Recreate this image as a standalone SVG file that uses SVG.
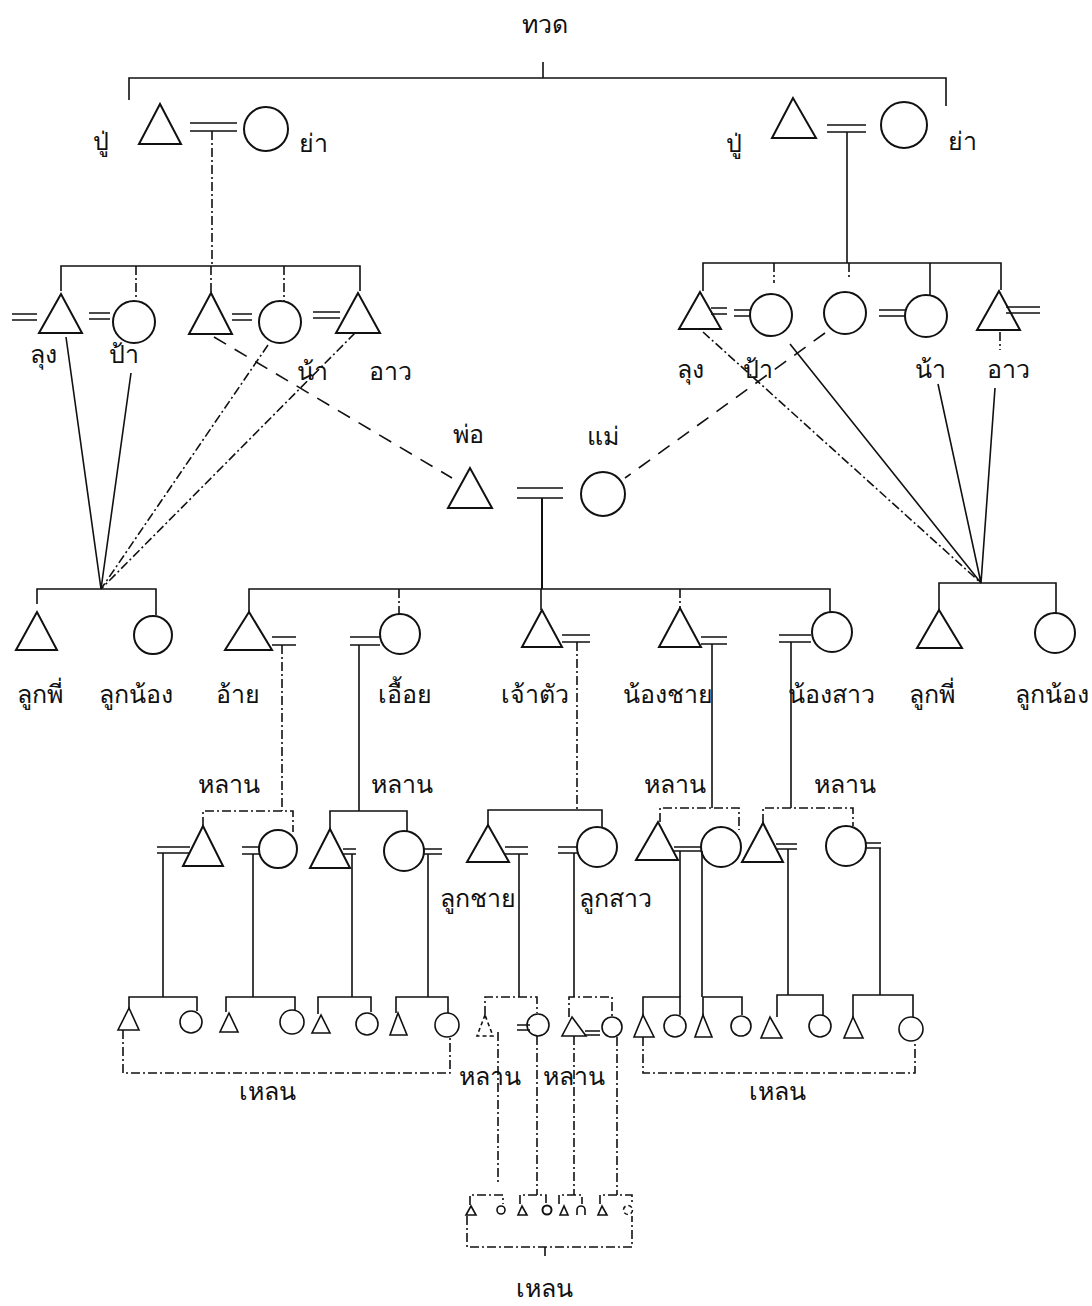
<svg xmlns="http://www.w3.org/2000/svg" width="1092" height="1306" viewBox="0 0 1092 1306">
<defs>
<pattern id="stip" width="5" height="5" patternUnits="userSpaceOnUse">
<rect width="5" height="5" fill="#d8d8d8"/>
<circle cx="1.5" cy="1.5" r="0.9" fill="#222"/>
<circle cx="4" cy="3.8" r="0.7" fill="#444"/>
</pattern>
</defs>
<style>
.s{fill:none;stroke:#111;stroke-width:2}
.ss{fill:none;stroke:#111;stroke-width:1.6}
.l{fill:none;stroke:#111;stroke-width:1.6}
.dd{stroke-dasharray:9 3 2 3}
.da{stroke-dasharray:14 10}
.dt{stroke-dasharray:4 3}
.t{font-family:"Noto Sans","DejaVu Sans",sans-serif;font-size:25px;fill:#111;text-anchor:middle}
</style>
<rect width="1092" height="1306" fill="#fff"/>

<g id="connectors">
<!-- top bracket -->
<path class="l" d="M543,62 V78 M129,100 V78 H946 V106"/>
<!-- grandparents marriages and descent -->
<path class="l" d="M190,123 H237 M190,131 H237"/>
<path class="l dd" d="M212,131 V266"/>
<path class="l" d="M827,125 H866 M827,132 H866"/>
<path class="l" d="M847,132 V263"/>
<!-- left sibling bracket -->
<path class="l" d="M61,291 V266 H360 V291"/>
<path class="l dd" d="M136,266 V300 M211,266 V292 M284,266 V301"/>
<path class="l" d="M12,314 H37 M12,320 H37 M89,313 H110 M89,319 H110 M232,314 H252 M232,320 H252 M313,312 H340 M313,318 H340"/>
<!-- right sibling bracket -->
<path class="l" d="M703,291 V263 H1001 V290"/>
<path class="l dd" d="M774,263 V283 M849,263 V280"/>
<path class="l" d="M930,263 V295"/>
<path class="l" d="M711,308 H727 M711,314 H727 M734,310 H751 M734,316 H751 M879,310 H905 M879,316 H905 M1006,307 H1040 M1006,313 H1040"/>
<!-- to father / mother -->
<path class="l da" d="M214,337 L452,478"/>
<path class="l da" d="M825,333 L625,478"/>
<!-- left cousin lines -->
<path class="l" d="M66,337 L101,589 M131,373 L101,589"/>
<path class="l dd" d="M268,345 L101,589 M355,333 L101,589"/>
<path class="l" d="M37,604 V589 H156 V615"/>
<!-- right cousin lines -->
<path class="l dd" d="M703,332 L981,583"/>
<path class="l" d="M790,344 L981,583 M938,384 L981,583 M995,388 L981,583"/>
<path class="l dd" d="M1000,332 V350"/>
<path class="l" d="M939,610 V583 H1056 V613"/>
<!-- parents -->
<path class="l" d="M517,488 H563 M517,498 H563"/>
<path class="s" d="M542,498 V589"/>
<path class="l" d="M249,612 V589 H830 V612"/>
<path class="l dd" d="M399,589 V614 M680,589 V608"/>
<path class="l" d="M541,589 V610"/>
<!-- siblings spouses and descent -->
<path class="l" d="M272,637 H296 M272,645 H296 M350,637 H380 M350,645 H380 M562,635 H590 M562,642 H590 M701,637 H727 M701,644 H727 M779,635 H811 M779,642 H811"/>
<path class="l dd" d="M282,645 V811 M577,642 V810"/>
<path class="l" d="M359,645 V811 M712,644 V808 M791,642 V808"/>
<!-- grandchildren brackets -->
<path class="l dd" d="M203,826 V811 H293 V832"/>
<path class="l" d="M330,829 V811 H407 V831"/>
<path class="l" d="M488,825 V810 H602 V827"/>
<path class="l dd" d="M660,822 V808 H739 V830"/>
<path class="l dd" d="M763,823 V808 H853 V826"/>
<!-- grandchildren spouses and descent -->
<path class="l" d="M157,847 H190 M157,853 H190 M242,847 H259 M242,854 H259 M343,849 H356 M343,854 H356 M423,849 H442 M423,854 H442 M505,847 H528 M505,854 H528 M558,847 H578 M558,853 H578 M674,847 H690 M674,851 H690 M690,847 H702 M690,851 H702 M776,844 H797 M776,849 H797 M865,843 H881 M865,848 H881"/>
<path class="l" d="M163,853 V997 M253,854 V997 M352,854 V997 M428,854 V997 M519,854 V997 M574,853 V997 M680,851 V997 M702,851 V997 M788,849 V995 M880,848 V995"/>
<!-- great-grandchildren brackets -->
<path class="l" d="M129,1008 V997 H197 V1011"/>
<path class="l" d="M226,1012 V997 H295 V1010"/>
<path class="l" d="M318,1014 V997 H371 V1012"/>
<path class="l" d="M396,1013 V997 H448 V1013"/>
<path class="l dd" d="M485,1015 V997 H537 V1013"/>
<path class="l dd" d="M569,1017 V997 H612 V1017"/>
<path class="l" d="M643,1015 V997 H680 V1015"/>
<path class="l" d="M703,1015 V997 H742 V1015"/>
<path class="l" d="M777,1017 V995 H823 V1015"/>
<path class="l" d="M853,1017 V995 H913 V1017"/>
<path class="l" d="M517,1025 H530 M517,1030 H530 M585,1031 H600 M585,1035 H600"/>
<!-- lehn brackets -->
<path class="l dd" d="M123,1030 V1073 H450 V1038"/>
<path class="l dd" d="M643,1037 V1073 H915 V1041"/>
<!-- descent to bottom -->
<path class="l dd" d="M498,1032 V1183"/>
<path class="l dd" d="M537,1036 V1195 M574,1036 V1195 M617,1037 V1195"/>
<path class="l dd" d="M470,1205 V1195 H503 V1204 M520,1204 V1195 H546 V1204 M559,1204 V1195 H582 V1204 M600,1204 V1195 H632 V1204"/>
<path class="l dd" d="M467,1216 V1247 H632 V1216 M545,1247 V1257"/>
</g>

<g id="n-tuat"><text class="t" x="545" y="33">ทวด</text></g>
<g id="n-pu-l"><polygon class="s" points="160,104 139,144 181,144"/><text class="t" x="101" y="150">ปู่</text></g>
<g id="n-ya-l"><circle class="s" cx="266" cy="129" r="22"/><text class="t" x="313" y="152">ย่า</text></g>
<g id="n-pu-r"><polygon class="s" points="793,98 772,138 816,138"/><text class="t" x="734" y="152">ปู่</text></g>
<g id="n-ya-r"><circle class="s" cx="904" cy="125" r="23"/><text class="t" x="962" y="150">ย่า</text></g>

<g id="n-lung-l"><polygon class="s" points="61,294 39,333 82,333"/><text class="t" x="43" y="363">ลุง</text></g>
<g id="n-pa-l"><circle class="s" cx="134" cy="322" r="21"/><text class="t" x="124" y="363">ป้า</text></g>
<g id="n-pho-l"><polygon class="s" points="211,293 189,334 232,334"/></g>
<g id="n-na-l"><circle class="s" cx="280" cy="322" r="21"/><text class="t" x="312" y="380">น้า</text></g>
<g id="n-ao-l"><polygon class="s" points="358,293 336,333 380,333"/><text class="t" x="390" y="380">อาว</text></g>

<g id="n-lung-r"><polygon class="s" points="700,292 679,329 721,329"/><text class="t" x="690" y="378">ลุง</text></g>
<g id="n-pa-r"><circle class="s" cx="771" cy="315" r="21"/><text class="t" x="758" y="378">ป้า</text></g>
<g id="n-mae-r"><circle class="s" cx="845" cy="313" r="21"/></g>
<g id="n-na-r"><circle class="s" cx="926" cy="316" r="21"/><text class="t" x="930" y="378">น้า</text></g>
<g id="n-ao-r"><polygon class="s" points="999,291 977,330 1020,330"/><text class="t" x="1008" y="378">อาว</text></g>

<g id="n-pho"><polygon class="s" points="470,468 448,508 492,508"/><text class="t" x="468" y="443">พ่อ</text></g>
<g id="n-mae"><circle class="s" cx="603" cy="494" r="22"/><text class="t" x="603" y="445">แม่</text></g>

<g id="n-lukphi-l"><polygon class="s" points="37,612 16,650 57,650"/><text class="t" x="40" y="703">ลูกพี่</text></g>
<g id="n-luknong-l"><circle class="s" cx="153" cy="635" r="19"/><text class="t" x="136" y="703">ลูกน้อง</text></g>
<g id="n-ai"><polygon class="s" points="249,612 225,650 272,650"/><text class="t" x="238" y="703">อ้าย</text></g>
<g id="n-ueai"><circle class="s" cx="400" cy="634" r="20"/><text class="t" x="405" y="703">เอื้อย</text></g>
<g id="n-chaotua"><polygon class="s" points="542,610 522,647 562,647" fill="url(#stip)"/><text class="t" x="535" y="703">เจ้าตัว</text></g>
<g id="n-nongchai"><polygon class="s" points="680,608 659,647 701,647"/><text class="t" x="668" y="703">น้องชาย</text></g>
<g id="n-nongsao"><circle class="s" cx="832" cy="632" r="20"/><text class="t" x="831" y="703">น้องสาว</text></g>
<g id="n-lukphi-r"><polygon class="s" points="939,610 917,648 962,648"/><text class="t" x="932" y="703">ลูกพี่</text></g>
<g id="n-luknong-r"><circle class="s" cx="1055" cy="633" r="20"/><text class="t" x="1089" y="703" style="text-anchor:end">ลูกน้อง</text></g>

<g id="n-lan-labels">
<text class="t" x="229" y="793">หลาน</text>
<text class="t" x="402" y="793">หลาน</text>
<text class="t" x="675" y="793">หลาน</text>
<text class="t" x="845" y="793">หลาน</text>
</g>
<g id="n-lan-m1"><polygon class="s" points="203,826 183,866 223,866"/></g>
<g id="n-lan-f1"><circle class="s" cx="278" cy="849" r="19"/></g>
<g id="n-lan-m2"><polygon class="s" points="330,829 310,868 350,868"/></g>
<g id="n-lan-f2"><circle class="s" cx="404" cy="851" r="20"/></g>
<g id="n-lukchai"><polygon class="s" points="488,825 467,862 509,862"/><text class="t" x="478" y="907">ลูกชาย</text></g>
<g id="n-luksao"><circle class="s" cx="597" cy="847" r="20"/><text class="t" x="615" y="907">ลูกสาว</text></g>
<g id="n-lan-m3"><polygon class="s" points="658,822 636,860 678,860"/></g>
<g id="n-lan-f3"><circle class="s" cx="721" cy="847" r="20"/></g>
<g id="n-lan-m4"><polygon class="s" points="763,823 742,862 783,862"/></g>
<g id="n-lan-f4"><circle class="s" cx="846" cy="846" r="20"/></g>

<g id="n-lehn-row">
<polygon class="ss" points="129,1008 118,1030 139,1030"/><circle class="ss" cx="191" cy="1022" r="11"/>
<polygon class="ss" points="229,1013 220,1032 238,1032"/><circle class="ss" cx="292" cy="1022" r="12"/>
<polygon class="ss" points="321,1015 312,1033 330,1033"/><circle class="ss" cx="367" cy="1024" r="11"/>
<polygon class="ss" points="398,1013 390,1035 407,1035"/><circle class="ss" cx="447" cy="1025" r="12"/>
<polygon class="ss dt" points="485,1015 477,1036 493,1036"/><circle class="ss" cx="538" cy="1025" r="11"/>
<polygon class="ss" points="572,1017 562,1036 586,1036"/><circle class="ss" cx="612" cy="1027" r="10"/>
<polygon class="ss" points="643,1015 634,1037 654,1037"/><circle class="ss" cx="675" cy="1026" r="11"/>
<polygon class="ss" points="703,1015 695,1037 712,1037"/><circle class="ss" cx="741" cy="1026" r="10"/>
<polygon class="ss" points="770,1017 761,1038 782,1038"/><circle class="ss" cx="820" cy="1026" r="11"/>
<polygon class="ss" points="853,1017 844,1038 863,1038"/><circle class="ss" cx="911" cy="1029" r="12"/>
</g>
<g id="n-lehn-labels">
<text class="t" x="267" y="1100">เหลน</text>
<text class="t" x="777" y="1100">เหลน</text>
<text class="t" x="490" y="1085">หลาน</text>
<text class="t" x="574" y="1085">หลาน</text>
</g>
<g id="n-bottom-row">
<polygon class="ss" points="471,1206 466,1215 476,1215"/><circle class="ss" cx="501" cy="1210" r="4"/>
<polygon class="ss" points="522,1206 518,1215 527,1215"/><circle class="s" cx="547" cy="1210" r="4.5"/>
<polygon class="ss" points="564,1206 560,1215 568,1215"/><path class="ss" d="M577,1215 V1210 A4,4 0 0 1 585,1210 V1215"/>
<polygon class="ss" points="602,1206 598,1215 607,1215"/><circle class="ss dt" cx="628" cy="1210" r="4.5"/>
<text class="t" x="544" y="1297">เหลน</text>
</g>
</svg>
